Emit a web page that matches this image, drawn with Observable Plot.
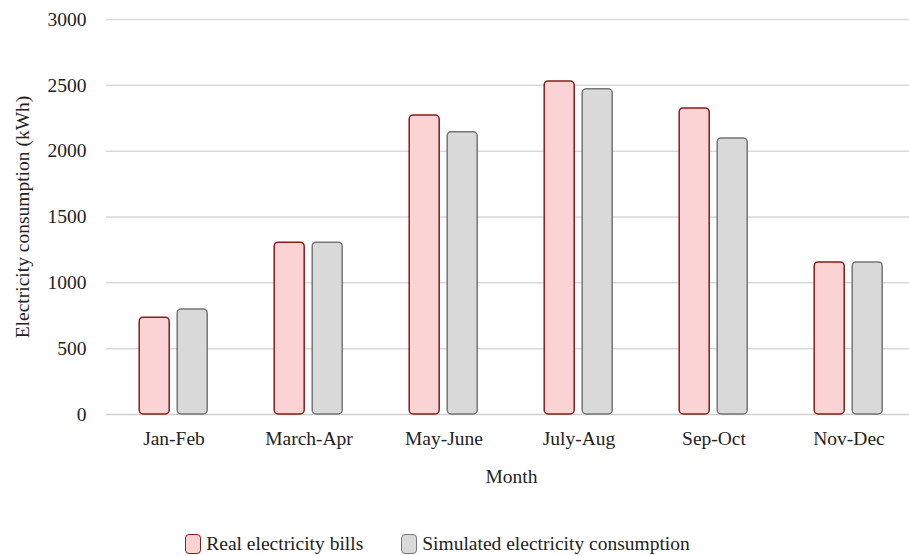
<!DOCTYPE html>
<html>
<head>
<meta charset="utf-8">
<script src="https://cdn.jsdelivr.net/npm/d3@7"></script>
<script src="https://cdn.jsdelivr.net/npm/@observablehq/plot@0.6"></script>
<style>
  html, body { margin: 0; padding: 0; background: #fff; overflow: hidden; }
  #chart { width: 909px; }
  #chart svg text { font-family: "Liberation Serif", "DejaVu Serif", serif; }
  .legend {
    display: flex; justify-content: center; align-items: center;
    font-family: "Liberation Serif", "DejaVu Serif", serif; font-size: 19.5px; color: #222;
    margin-top: 32px; padding-right: 34px; gap: 38px; line-height: 24px;
  }
  .legend .item { display: flex; align-items: center; }
  .legend .sw { width: 16px; height: 20px; border-radius: 4px; margin-right: 5px; box-sizing: border-box; }
</style>
</head>
<body>
<div id="chart"></div>
<script>
// Bi-monthly electricity consumption (kWh)
const months = ["Jan-Feb", "March-Apr", "May-June", "July-Aug", "Sep-Oct", "Nov-Dec"];
const seriesNames = ["Real electricity bills", "Simulated electricity consumption"];
const realBills = [735, 1305, 2270, 2530, 2325, 1155];
const simulated = [798, 1305, 2143, 2470, 2097, 1155];
const yTicks = [0, 500, 1000, 1500, 2000, 2500, 3000];

const realRows = months.map((m, i) => ({month: m, series: seriesNames[0], value: realBills[i]}));
const simRows = months.map((m, i) => ({month: m, series: seriesNames[1], value: simulated[i]}));

const pink = {fill: "#fbd3d4", stroke: "#8b1a1a"};
const grey = {fill: "#d9d9d9", stroke: "#767676"};

const plot = Plot.plot({
  width: 909,
  height: 500,
  marginLeft: 104.8,
  marginRight: -8,
  marginTop: 19,
  marginBottom: 86,
  style: {fontFamily: "'Liberation Serif', 'DejaVu Serif', serif", fontSize: "19.5px", color: "#222", overflow: "hidden", background: "#fff"},
  fx: {domain: months, padding: 0},
  x: {domain: seriesNames, paddingInner: 0.2, paddingOuter: 0.86, axis: null},
  y: {domain: [0, 3000]},
  marks: [
    Plot.ruleY(yTicks.filter(d => d > 0), {stroke: "#d9d9d9", strokeWidth: 1.5}),
    Plot.ruleY([0], {stroke: "#cfcfcf", strokeWidth: 1.5}),
    Plot.barY(realRows, {fx: "month", x: "series", y: "value", fill: pink.fill, stroke: pink.stroke, strokeWidth: 1.5, rx: 4}),
    Plot.barY(simRows, {fx: "month", x: "series", y: "value", fill: grey.fill, stroke: grey.stroke, strokeWidth: 1.5, rx: 4}),
    Plot.axisY({ticks: yTicks, tickSize: 0, tickPadding: 20, tickFormat: d => String(d),
      label: "Electricity consumption (kWh)", labelAnchor: "center", labelArrow: "none", labelOffset: 91}),
    Plot.axisFx({anchor: "bottom", tickSize: 0, tickPadding: 17,
      label: "Month", labelAnchor: "center", labelArrow: "none", labelOffset: 68})
  ]
});
document.getElementById("chart").appendChild(plot);

// Legend below the chart
const legend = document.createElement("div");
legend.className = "legend";
[[seriesNames[0], pink], [seriesNames[1], grey]].forEach(([name, c]) => {
  const item = document.createElement("div");
  item.className = "item";
  const sw = document.createElement("span");
  sw.className = "sw";
  sw.style.background = c.fill;
  sw.style.border = `1.5px solid ${c.stroke}`;
  const t = document.createElement("span");
  t.textContent = name;
  item.appendChild(sw);
  item.appendChild(t);
  legend.appendChild(item);
});
document.body.appendChild(legend);
</script>
</body>
</html>
